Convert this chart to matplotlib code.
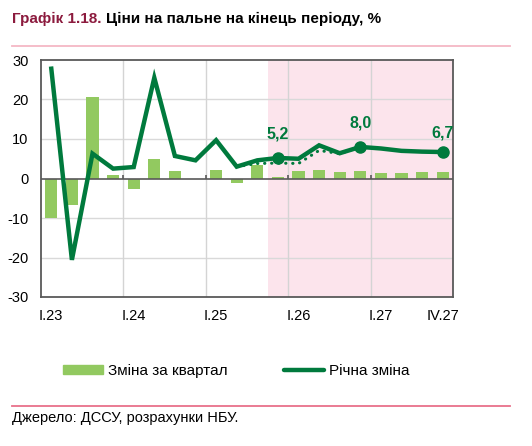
import matplotlib.pyplot as plt
from matplotlib.lines import Line2D
from matplotlib.patches import Patch

plt.rcParams['font.family'] = ['Liberation Sans', 'DejaVu Sans']
plt.rcParams['axes.unicode_minus'] = False

quarters = ["I.23", "II.23", "III.23", "IV.23", "I.24", "II.24", "III.24", "IV.24",
            "I.25", "II.25", "III.25", "IV.25", "I.26", "II.26", "III.26", "IV.26",
            "I.27", "II.27", "III.27", "IV.27"]
qoq = [-10.0, -6.8, 20.7, 0.9, -2.7, 5.0, 2.0, 0.0,
       2.2, -1.1, 3.5, 0.3, 1.8, 2.1, 1.75, 1.8,
       1.5, 1.4, 1.7, 1.75]
yoy = [27.8, -20.6, 6.3, 2.5, 2.9, 25.5, 5.7, 4.6,
       9.7, 3.0, 4.6, 5.2, 5.0, 8.4, 6.4, 8.0,
       7.6, 7.0, 6.8, 6.7]
# previous forecast (dotted), from III.25 to I.27
prev_idx = [9, 10, 11, 12, 13, 14, 15]
prev_val = [3.0, 3.8, 3.9, 3.8, 7.1, 6.3, 8.0]
tick_labels = {0: "I.23", 4: "I.24", 8: "I.25", 12: "I.26", 16: "I.27", 19: "IV.27"}
marked = [11, 15, 19]
forecast_start = 11

BAR = '#92C960'
LINE = '#007A3D'
GREY = '#595959'

W, H = 532, 446
fig = plt.figure(figsize=(W / 100, H / 100), dpi=100)
ax = fig.add_axes([41 / W, 1 - 297 / H, (453 - 41) / W, (297 - 60) / H])

x = list(range(len(quarters)))
ax.axvspan(forecast_start - 0.5, len(quarters) - 0.5, color='#FCE4EC', zorder=0, lw=0)
for yv in (-20, -10, 10, 20):
    ax.axhline(yv, color='#D9D9D9', lw=1, zorder=1)
for b in (3.5, 7.5, 11.5, 15.5):
    ax.axvline(b, color='#D4D4D4', lw=1, zorder=1)
    ax.vlines(b, 0, 1.0, color=GREY, lw=1.2, zorder=3)

ax.bar(x, qoq, width=0.6, color=BAR, zorder=2)
ax.axhline(0, color=GREY, lw=1.2, zorder=3)
ax.plot(prev_idx, prev_val, color=LINE, lw=2.2, linestyle=(0, (0.1, 2.2)),
        dash_capstyle='round', zorder=4)
ax.plot(x, yoy, color=LINE, lw=3.2, solid_joinstyle='miter', zorder=5)
ax.plot(marked, [yoy[i] for i in marked], 'o', color=LINE, ms=8, zorder=6)
for i in marked:
    off = 13.5 if i == 19 else 17
    ax.annotate(f"{yoy[i]:.1f}".replace('.', ','), (i, yoy[i]), xytext=(0, off),
                textcoords='offset points', ha='center', va='center',
                fontsize=11.5, fontweight='bold', color=LINE)

ax.set_xlim(-0.5, len(quarters) - 0.5)
ax.set_ylim(-30, 30)
ax.set_yticks(range(-30, 31, 10))
ax.set_xticks(list(tick_labels.keys()))
ax.set_xticklabels(list(tick_labels.values()))
ax.tick_params(axis='both', length=0, labelsize=10.5, colors='black')
ax.tick_params(axis='y', pad=9)
ax.tick_params(axis='x', pad=9)
for s in ax.spines.values():
    s.set_color(GREY)
    s.set_linewidth(1.3)

# title in two colours
t1 = fig.text(12 / W, 1 - 22.5 / H, "Графік 1.18.", color='#8C1B3E',
              fontsize=11, fontweight='bold', va='baseline')
fig.canvas.draw()
bb = t1.get_window_extent()
fig.text(bb.x1 / W + 4 / W, 1 - 22.5 / H, "Ціни на пальне на кінець періоду, %",
         color='black', fontsize=11, fontweight='bold', va='baseline')

fig.add_artist(Line2D([12 / W, 510 / W], [1 - 45.7 / H] * 2, color='#F5B8C5', lw=1.3))
fig.add_artist(Line2D([12 / W, 510 / W], [1 - 406.3 / H] * 2, color='#E8718A', lw=1.3))

handles = [Patch(color=BAR), Line2D([], [], color=LINE, lw=3.2, solid_capstyle='round')]
fig.legend(handles, ["Зміна за квартал", "Річна зміна"], loc='center',
           bbox_to_anchor=(236.5 / W, 1 - 370.7 / H), ncol=2, frameon=False,
           fontsize=11, handlelength=2.6, handleheight=0.5, handletextpad=0.35,
           columnspacing=3.7)

fig.text(12 / W, 1 - 422 / H, "Джерело: ДССУ, розрахунки НБУ.", fontsize=10.5,
         va='baseline')

fig.savefig("out.png", dpi=100)
